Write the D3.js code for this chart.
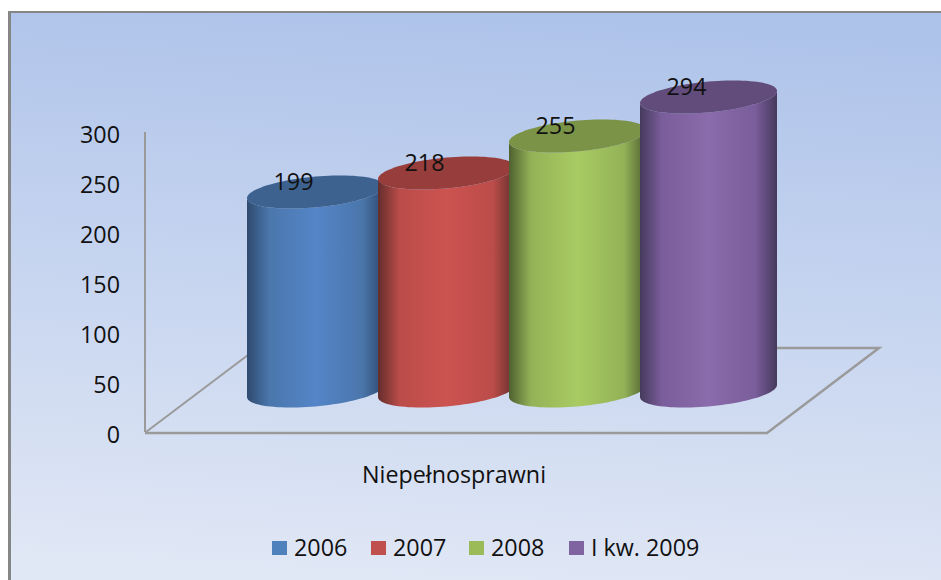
<!DOCTYPE html>
<html>
<head>
<meta charset="utf-8">
<script src="https://cdn.jsdelivr.net/npm/d3@7"></script>
<style>
  html, body { margin: 0; padding: 0; background: #fff; }
  svg { display: block; }
  text { font-family: "Open Sans", sans-serif; fill: #111; }
</style>
</head>
<body>
<svg id="chart" width="941" height="580"></svg>
<script>
const series = ['2006', '2007', '2008', 'I kw. 2009'];
const values = [199, 218, 255, 294];
const category = 'Niepełnosprawni';
const yTicks = [0, 50, 100, 150, 200, 250, 300];
const baseColors = ['#5585c8', '#cc5350', '#a9cb62', '#8a6bab'];
const edgeColors = ['#2f4a6e', '#642e2c', '#4f6030', '#453a5c'];
const midColors = ['#4a76ab', '#bb4c49', '#93b257', '#7a5d9b'];
const capColors = ['#3d628f', '#973e3c', '#7a9346', '#624c7b'];
const legendColors = ['#4f81bd', '#c0504d', '#9bbb59', '#8064a2'];
const fontSize = 23.3;

const svg = d3.select('#chart');
const defs = svg.append('defs');

const bg = defs.append('linearGradient')
  .attr('id', 'bg').attr('x1', 0.55).attr('y1', 0).attr('x2', 0.45).attr('y2', 1);
bg.append('stop').attr('offset', 0).attr('stop-color', '#aec3ea');
bg.append('stop').attr('offset', 1).attr('stop-color', '#e0e7f5');

svg.append('rect')
  .attr('x', 8).attr('y', 11).attr('width', 933).attr('height', 569)
  .attr('fill', '#868686');
svg.append('rect')
  .attr('x', 11).attr('y', 13).attr('width', 930).attr('height', 567)
  .attr('fill', 'url(#bg)');

// value axis, one pixel per unit in this picture
const y = d3.scaleLinear().domain([0, 300]).range([432, 132]);
// cylinders stand further back on the floor
const yBar = d3.scaleLinear().domain([0, 300]).range([397, 97]);
const x = d3.scaleBand().domain(series).range([247, 771]);

const cylW = 137;
const rise = 12;
const capH = 15.4;

const floor = svg.append('g')
  .attr('fill', 'none').attr('stroke', '#9a9a9a').attr('stroke-width', 2);
floor.append('line').attr('x1', 145).attr('y1', y(300)).attr('x2', 145).attr('y2', y(0));
floor.append('path').attr('d', 'M146,432L248,355');
floor.append('path').attr('d', 'M145,433H767L879,348H770').attr('stroke-width', 2.5);

svg.append('g')
  .attr('text-anchor', 'end')
  .selectAll('text')
  .data(yTicks)
  .join('text')
  .attr('x', 120)
  .attr('y', (d) => y(d) + 2.5)
  .attr('dy', '.36em')
  .attr('font-size', fontSize)
  .text((d) => d);

// sheared ellipse: right end sits higher than left end
const rimPoint = (name, v, t) => {
  const a = cylW / 2;
  const c = Math.cos(t);
  return [
    x(name) + a + a * c,
    yBar(v) - rise / 2 - (rise / 2) * c + capH * Math.sin(t),
  ];
};
const line = d3.line();
const steps = d3.range(0, 49).map((i) => (i / 48) * Math.PI);

series.forEach((name, i) => {
  const grad = defs.append('linearGradient').attr('id', `cyl${i}`);
  [
    [0, edgeColors[i]],
    [0.16, midColors[i]],
    [0.5, baseColors[i]],
    [0.84, midColors[i]],
    [1, edgeColors[i]],
  ].forEach((s) => {
    grad.append('stop').attr('offset', s[0]).attr('stop-color', s[1]);
  });

  const v = values[i];
  // lower rim goes right to left along the front, then back over the top rim
  const lower = steps.map((t) => rimPoint(name, 0, t));
  const upper = steps.map((t) => rimPoint(name, v, Math.PI - t));
  svg.append('path')
    .attr('d', line(lower.concat(upper)) + 'Z')
    .attr('fill', `url(#cyl${i})`);

  const cap = d3.range(0, 97).map((k) => rimPoint(name, v, (k / 96) * 2 * Math.PI));
  svg.append('path')
    .attr('d', line(cap) + 'Z')
    .attr('fill', capColors[i]);
});

svg.append('g')
  .attr('text-anchor', 'middle')
  .selectAll('text')
  .data(values)
  .join('text')
  .attr('x', (d, i) => x(series[i]) + cylW / 2 - 22)
  .attr('y', (d) => yBar(d) - rise / 2 - 10)
  .attr('dy', '.36em')
  .attr('font-size', fontSize)
  .text((d) => d);

svg.append('text')
  .attr('x', 454)
  .attr('y', 475)
  .attr('dy', '.36em')
  .attr('text-anchor', 'middle')
  .attr('font-size', fontSize)
  .text(category);

const legendX = [272, 371, 469, 569];
const legend = svg.append('g')
  .selectAll('g')
  .data(series)
  .join('g')
  .attr('transform', (d, i) => `translate(${legendX[i]},541)`);
legend.append('rect')
  .attr('width', 15).attr('height', 14)
  .attr('fill', (d, i) => legendColors[i]);
legend.append('text')
  .attr('x', 22).attr('y', 7).attr('dy', '.36em')
  .attr('font-size', fontSize)
  .text((d) => d);
</script>
</body>
</html>
